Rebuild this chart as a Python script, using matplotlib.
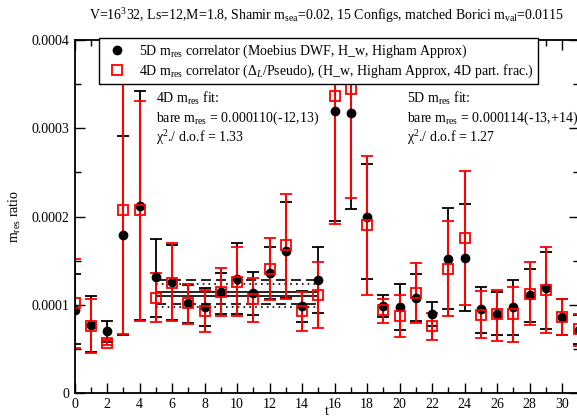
import numpy as np
import matplotlib
matplotlib.use("Agg")
import matplotlib.pyplot as plt
from matplotlib.lines import Line2D
from matplotlib.ticker import MultipleLocator, FuncFormatter

plt.rcParams['font.family'] = ['Liberation Serif', 'DejaVu Serif']
plt.rcParams['mathtext.fontset'] = 'custom'
plt.rcParams['mathtext.rm'] = 'Liberation Serif'
plt.rcParams['mathtext.it'] = 'Liberation Serif:italic'

scale = 1e-4
t = np.arange(32)

# 5D m_res correlator (black), units of 1e-4
m5 = [0.94, 0.77, 0.70, 1.79, 2.12, 1.31, 1.26, 1.02, 0.98, 1.14, 1.29, 1.13, 1.36, 1.61, 0.99, 1.28,
      3.19, 3.17, 1.99, 0.985, 0.98, 1.08, 0.89, 1.52, 1.53, 0.95, 0.89, 0.97, 1.11, 1.19, 0.86, 0.71]
m5_lo = [0.55, 0.47, 0.58, 0.66, 0.83, 0.86, 0.83, 0.79, 0.76, 0.89, 0.90, 0.88, 1.07, 1.08, 0.81, 0.91,
         1.95, 2.09, 1.29, 0.86, 0.71, 0.82, 0.76, 0.95, 0.93, 0.68, 0.66, 0.66, 0.80, 0.73, 0.66, 0.56]
m5_hi = [1.35, 1.10, 0.82, 2.91, 3.42, 1.74, 1.68, 1.22, 1.19, 1.36, 1.70, 1.37, 1.66, 2.16, 1.16, 1.65,
         4.6, 4.6, 2.6, 1.11, 1.24, 1.35, 1.03, 2.10, 2.14, 1.20, 1.14, 1.28, 1.41, 1.60, 1.06, 0.88]

# 4D m_res correlator (red), units of 1e-4
m4 = [1.02, 0.76, 0.57, 2.07, 2.07, 1.08, 1.25, 1.02, 0.93, 1.15, 1.26, 1.06, 1.40, 1.68, 0.93, 1.11,
      3.36, 3.45, 1.90, 0.94, 0.87, 1.13, 0.76, 1.41, 1.76, 0.88, 0.89, 0.89, 1.12, 1.17, 0.86, 0.72]
m4_lo = [0.51, 0.456, 0.54, 0.67, 0.82, 0.80, 0.815, 0.78, 0.69, 0.87, 0.875, 0.81, 1.05, 1.06, 0.705, 0.74,
         1.91, 2.21, 1.11, 0.79, 0.63, 0.79, 0.60, 0.87, 1.00, 0.62, 0.59, 0.58, 0.77, 0.68, 0.66, 0.53]
m4_hi = [1.52, 1.06, 0.60, 4.6, 3.31, 1.36, 1.70, 1.24, 1.17, 1.42, 1.65, 1.30, 1.76, 2.25, 1.14, 1.48,
         4.6, 4.6, 2.68, 1.07, 1.11, 1.47, 0.91, 1.95, 2.52, 1.16, 1.17, 1.20, 1.48, 1.66, 1.07, 0.90]

# fit results (units of 1e-4) over the fit window
fit_t = [5, 15]
fit4, fit4_lo, fit4_hi = 1.10, 0.98, 1.23
fit5, fit5_lo, fit5_hi = 1.14, 1.01, 1.28

lab5 = r'5D m$_{\rm res}$ correlator (Moebius DWF, H_w, Higham Approx)'
lab4 = r'4D m$_{\rm res}$ correlator ($\Delta_L$/Pseudo), (H_w, Higham Approx, 4D part. frac.)'

m5 = np.array(m5) * scale
m5_lo = np.array(m5_lo) * scale
m5_hi = np.array(m5_hi) * scale
m4 = np.array(m4) * scale
m4_lo = np.array(m4_lo) * scale
m4_hi = np.array(m4_hi) * scale

fig = plt.figure(figsize=(5.77, 4.17), dpi=100)
ax = fig.add_axes([74.5 / 577, 24 / 417, 504 / 577, 353 / 417])

# fit bands
for c, lo, hi, ls in [(fit5, fit5_lo, fit5_hi, (0, (6, 3))), (fit4, fit4_lo, fit4_hi, (0, (1, 2.5)))]:
    ax.plot(fit_t, [c * scale] * 2, color='black', lw=1.2)
    ax.plot(fit_t, [lo * scale] * 2, color='black', lw=1.2, linestyle=ls)
    ax.plot(fit_t, [hi * scale] * 2, color='black', lw=1.2, linestyle=ls)

ax.errorbar(t, m5, yerr=[m5 - m5_lo, m5_hi - m5], fmt='o', color='black', ms=6,
            capsize=4, elinewidth=1.3, capthick=1.3)
ax.errorbar(t, m4, yerr=[m4 - m4_lo, m4_hi - m4], fmt='s', color='red', mfc='none', mec='red',
            ms=7.5, mew=1.3, capsize=4, elinewidth=1.5, capthick=1.5)

ax.set_xlim(0, 31)
ax.set_ylim(0, 4e-4)
ax.xaxis.set_major_locator(MultipleLocator(2))
ax.xaxis.set_minor_locator(MultipleLocator(1))
ax.yaxis.set_major_locator(MultipleLocator(1e-4))
ax.yaxis.set_minor_locator(MultipleLocator(5e-5))
ax.yaxis.set_major_formatter(FuncFormatter(lambda v, p: '0' if v == 0 else '%g' % v))
ax.tick_params(which='both', direction='in', top=True, right=True, labelsize=10, width=1)
ax.tick_params(which='major', length=7)
ax.tick_params(which='minor', length=4)
for s in ax.spines.values():
    s.set_linewidth(1.3)

ax.set_xlabel('t', fontsize=10)
ax.xaxis.set_label_coords(0.5, -0.033)
ax.set_ylabel(r'm$_{\rm res}$ ratio', fontsize=10, labelpad=6)

handles = [Line2D([], [], marker='o', color='black', ls='none', ms=6),
           Line2D([], [], marker='s', color='red', mfc='none', mew=1.3, ls='none', ms=7.5)]
leg = ax.legend(handles, [lab5, lab4], loc='upper left', bbox_to_anchor=(0.049, 1.005), borderaxespad=0,
                fancybox=False, edgecolor='black', framealpha=1, fontsize=10,
                handletextpad=0.6, borderpad=0.3, labelspacing=0.2, numpoints=1)
leg.get_frame().set_linewidth(1)
leg.set_zorder(10)

fig.text(326 / 577, 1 - 16 / 417,
         r'V=16$^3$32, Ls=12,M=1.8, Shamir m$_{\rm sea}$=0.02, 15 Configs, matched Borici m$_{\rm val}$=0.0115',
         ha='center', va='center', fontsize=10)

fig.text(156 / 577, 1 - 98 / 417, r'4D m$_{\rm res}$ fit:', va='center', fontsize=10)
fig.text(156 / 577, 1 - 118 / 417, r'bare m$_{\rm res}$ = 0.000110(-12,13)', va='center', fontsize=10)
fig.text(156 / 577, 1 - 138 / 417, r'χ$^{2}$./ d.o.f = 1.33', va='center', fontsize=10)
fig.text(407 / 577, 1 - 98 / 417, r'5D m$_{\rm res}$ fit:', va='center', fontsize=10)
fig.text(407 / 577, 1 - 118 / 417, r'bare m$_{\rm res}$ = 0.000114(-13,+14)', va='center', fontsize=10)
fig.text(407 / 577, 1 - 138 / 417, r'χ$^{2}$./ d.o.f = 1.27', va='center', fontsize=10)

fig.savefig('out.png', dpi=100)
